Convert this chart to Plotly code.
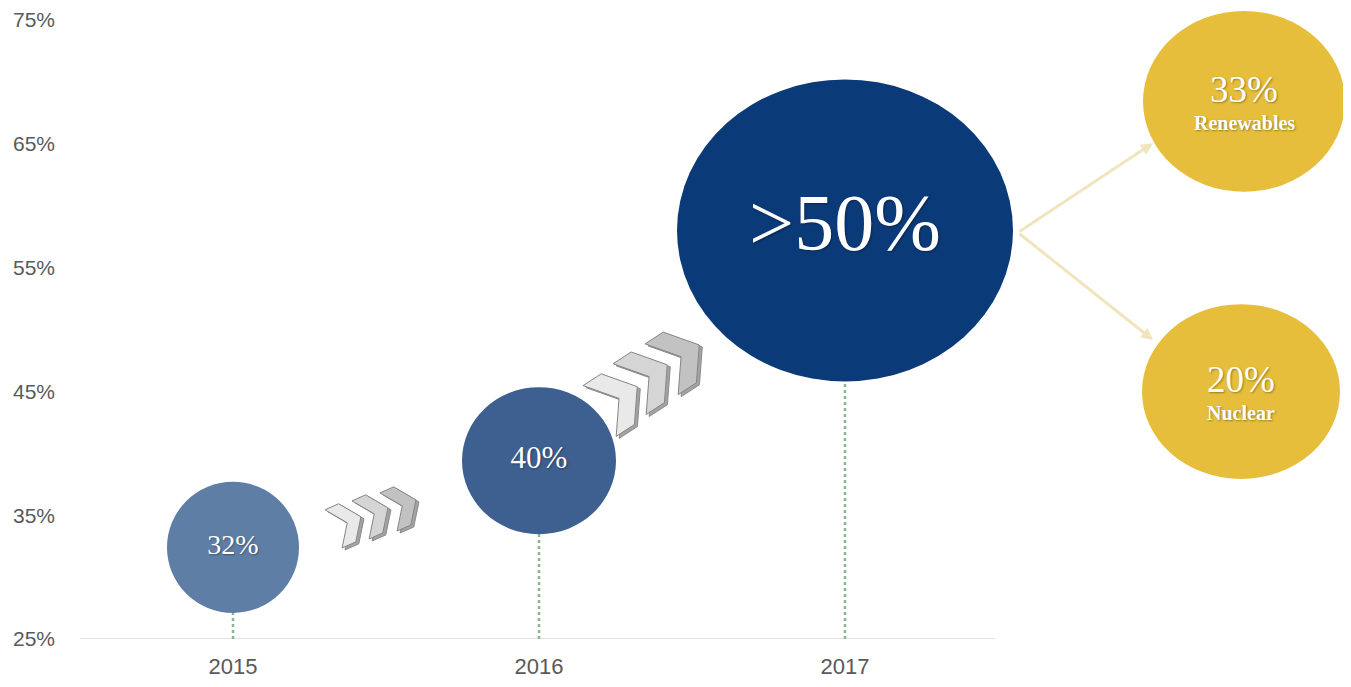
import math
import plotly.graph_objects as go

# ---------------- data ----------------
years = [2015, 2016, 2017]
levels = [32.4, 39.4, 58.0]          # bubble level on the y axis (%)
labels = ["32%", "40%", ">50%"]
split_values = ["33%", "20%"]
split_names = ["Renewables", "Nuclear"]
y_ticks = [25, 35, 45, 55, 65, 75]

# ---------------- layout / style constants ----------------
OFF = 8                       # page body margin
W, H = 1351 - OFF, 687 - 2 * OFF
PLOT_LEFT, PLOT_TOP, PLOT_BOTTOM = 62, OFF, 641      # page pixels
ML = PLOT_LEFT - OFF
MT = PLOT_TOP - OFF
MB = (H + OFF) - PLOT_BOTTOM
MR = 0
PLOT_W = W - ML - MR
PLOT_H = PLOT_BOTTOM - PLOT_TOP
PX_X = 306.0      # pixels per year
PX_Y = 12.46      # pixels per percentage point
X0 = 2015 - (233 - PLOT_LEFT) / PX_X
x_range = [X0, X0 + PLOT_W / PX_X]
y_range = [25, 25 + PLOT_H / PX_Y]


def dx(px):
    return px / PX_X


def dy(px):
    return px / PX_Y


def X(px):
    return X0 + (px - PLOT_LEFT) / PX_X


def Y(py):
    return 25 + (PLOT_BOTTOM - py) / PX_Y


bubble_rx = [66, 77, 168]
bubble_ry = [66, 74, 152]
bubble_colors = ["#5f7ea6", "#3e6090", "#0b3a78"]

split_x = [X(1244), X(1241)]
split_y = [Y(100), Y(392)]
split_rx = [101, 99]
split_ry = [91, 88]
split_color = "#e6be3c"

shapes = []

# baseline
shapes.append(dict(type="line", xref="x", yref="y", x0=X(80), x1=X(995), y0=25, y1=25,
                   line=dict(color="#d9d9d9", width=1.5), layer="below"))

# bubbles + dotted drop lines
for yr, lv, rx, ry, c in zip(years, levels, bubble_rx, bubble_ry, bubble_colors):
    shapes.append(dict(type="line", xref="x", yref="y", x0=yr, x1=yr, y0=25, y1=lv - dy(ry),
                       line=dict(color="#8ab496", width=2.5, dash="dot"), layer="below"))
    shapes.append(dict(type="circle", xref="x", yref="y",
                       x0=yr - dx(rx), x1=yr + dx(rx), y0=lv - dy(ry), y1=lv + dy(ry),
                       fillcolor=c, line=dict(width=0), layer="below"))

# breakdown bubbles
for sx, sy, rx, ry in zip(split_x, split_y, split_rx, split_ry):
    shapes.append(dict(type="circle", xref="x", yref="y",
                       x0=sx - dx(rx), x1=sx + dx(rx), y0=sy - dy(ry), y1=sy + dy(ry),
                       fillcolor=split_color, line=dict(width=0), layer="below"))


# chevrons (decorative)
def chevron(ax, ay, theta, s, t=12, d=14, h=42, off=(0, 0)):
    pts = [(0, 0), (t, 0), (t + d, h / 2), (t, h), (0, h), (d, h / 2)]
    c, sn = math.cos(math.radians(theta)), math.sin(math.radians(theta))
    out = []
    for (px, py) in pts:
        px, py = px * s, py * s
        rx = px * c + py * sn
        ry = -px * sn + py * c
        out.append((X(ax + rx + off[0]), Y(ay + ry + off[1])))
    return "M " + " L ".join(f"{a:.5f},{b:.5f}" for a, b in out) + " Z"


chev_groups = [
    dict(anchors=[(325, 511), (352, 502), (380, 494)], theta=24, s=1.0, t=15, d=15),
    dict(anchors=[(583, 386), (613, 364), (645, 344)], theta=33, s=1.45, t=15, d=16),
]
chev_faces = ["#e9e9e9", "#d5d5d5", "#c2c2c2"]
for g in chev_groups:
    for i, (ax, ay) in enumerate(g["anchors"]):
        shapes.append(dict(type="path", xref="x", yref="y",
                           path=chevron(ax, ay, g["theta"], g["s"], g["t"], g["d"], off=(3, 2)),
                           fillcolor="#a3a3a3", line=dict(color="#8a8a8a", width=1), layer="above"))
        shapes.append(dict(type="path", xref="x", yref="y",
                           path=chevron(ax, ay, g["theta"], g["s"], g["t"], g["d"]),
                           fillcolor=chev_faces[i], line=dict(color="#858585", width=1), layer="above"))

annotations = []
# arrows to breakdown bubbles
for hx, hy in [(1153, 142), (1153, 340)]:
    annotations.append(dict(x=X(hx), y=Y(hy), ax=X(1018), ay=Y(232), xref="x", yref="y",
                            axref="x", ayref="y", text="", showarrow=True, arrowhead=2,
                            arrowsize=0.8, arrowwidth=3, arrowcolor="#efe6bd"))

SHADOW = "1px 1px 2px rgba(0,0,0,0.35)"
pct_shift = [12, 12]
name_shift = [-22, -21]
for sx, sy, v, n, ps, ns in zip(split_x, split_y, split_values, split_names, pct_shift, name_shift):
    annotations.append(dict(x=sx, y=sy, xref="x", yref="y", text=v, showarrow=False, yshift=ps,
                            font=dict(family="Liberation Serif", size=37, color="white",
                                      shadow=SHADOW)))
    annotations.append(dict(x=sx, y=sy, xref="x", yref="y", text=f"<b>{n}</b>", showarrow=False,
                            yshift=ns, font=dict(family="Liberation Serif", size=20, color="white",
                                                 shadow=SHADOW)))

fig = go.Figure()
fig.add_trace(go.Scatter(
    x=years, y=levels, mode="text", text=labels, textposition="middle center",
    textfont=dict(family="Liberation Serif", size=[28, 31, 80], color="white", shadow=SHADOW),
    hoverinfo="skip", showlegend=False,
))

fig.update_layout(
    width=W, height=H,
    margin=dict(l=ML, r=MR, t=MT, b=MB, pad=0),
    paper_bgcolor="white", plot_bgcolor="white",
    shapes=shapes, annotations=annotations,
    showlegend=False,
    xaxis=dict(range=x_range, tickmode="array", tickvals=years, ticktext=[str(y) for y in years],
               showgrid=False, zeroline=False, showline=False, ticks="",
               tickfont=dict(family="Liberation Sans", size=22, color="#595959"),
               ticklabelstandoff=12, ticklabeloverflow="allow", fixedrange=True),
    yaxis=dict(range=y_range, tickmode="array", tickvals=y_ticks,
               ticktext=[f"{v}%" for v in y_ticks],
               showgrid=False, zeroline=False, showline=False, ticks="",
               tickfont=dict(family="Liberation Sans", size=21, color="#595959"),
               ticklabelstandoff=6, ticklabeloverflow="allow", fixedrange=True),
)

fig.write_html("out.html")
